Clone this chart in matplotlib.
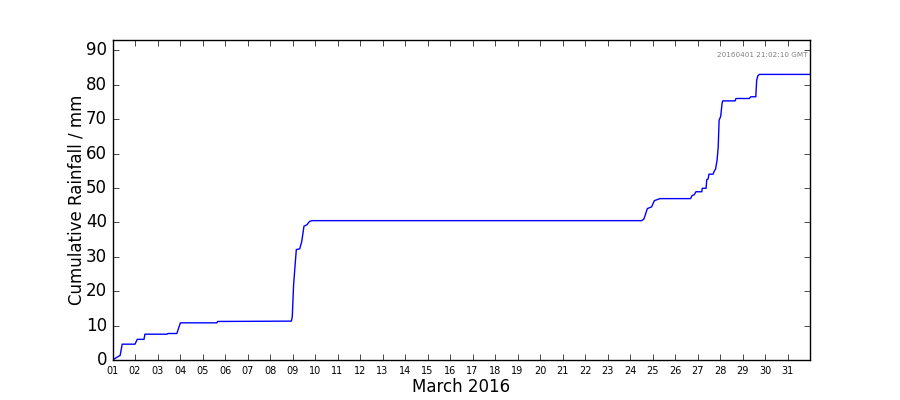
import datetime as dt
import matplotlib
matplotlib.use("Agg")
import matplotlib.pyplot as plt
import matplotlib.dates as mdates

# Days since 2016-03-01 00:00 and cumulative rainfall (mm)
days = [0.00, 0.15, 0.34, 0.40, 0.43, 1.00, 1.05, 1.10, 1.40, 1.44,
        2.43, 2.46, 2.86, 2.95, 3.02, 4.64, 4.67, 7.95, 7.99, 8.05,
        8.12, 8.17, 8.32, 8.41, 8.51, 8.64, 8.76, 8.88, 23.52, 23.62,
        23.77, 23.96, 24.08, 24.33, 25.69, 25.76, 25.85, 25.93, 26.19, 26.21,
        26.38, 26.41, 26.47, 26.51, 26.69, 26.75, 26.80, 26.87, 26.92, 26.96,
        27.03, 27.09, 27.12, 27.67, 27.71, 28.30, 28.37, 28.59, 28.63, 28.68,
        28.75, 31.00]
rain_mm = [0.0, 0.6, 1.35, 3.5, 4.6, 4.6, 5.3, 6.0, 6.0, 7.5,
           7.5, 7.7, 7.7, 9.5, 10.8, 10.8, 11.2, 11.3, 12.6, 22.0,
           28.0, 32.1, 32.3, 34.4, 38.9, 39.3, 40.3, 40.5, 40.5, 41.0,
           44.0, 44.5, 46.3, 46.9, 46.9, 47.8, 48.0, 48.9, 48.9, 49.9,
           49.9, 52.4, 52.6, 54.0, 54.0, 55.0, 55.4, 58.1, 61.9, 69.7,
           70.8, 74.5, 75.3, 75.3, 76.0, 76.0, 76.5, 76.5, 81.3, 82.6,
           83.0, 83.0]
stamp = "20160401 21:02:10 GMT"

start = dt.datetime(2016, 3, 1)
end = dt.datetime(2016, 3, 31, 23, 59)
times = [start + dt.timedelta(days=d) for d in days]

plt.style.use("classic")
plt.rcParams["font.family"] = ["DejaVu Sans"]

fig = plt.figure(figsize=(9, 4), dpi=100, facecolor="white")
ax = fig.add_subplot(111)
fig.subplots_adjust(left=0.125, right=0.9, bottom=0.1, top=0.9)
ax.plot(times, rain_mm, color="b", linewidth=1.0)

ax.set_xlim(start, end)
ax.set_ylim(0, 93)
ax.set_yticks(range(0, 91, 10))
ax.xaxis.set_major_locator(mdates.DayLocator())
ax.xaxis.set_major_formatter(mdates.DateFormatter("%d"))
ax.tick_params(axis="x", labelsize=7)
ax.tick_params(axis="y", labelsize=12)
ax.set_xlabel("March 2016", fontsize=12, labelpad=2)
ax.set_ylabel("Cumulative Rainfall / mm", fontsize=12, labelpad=0)
ax.text(0.996, 0.953, stamp, transform=ax.transAxes, ha="right", va="center",
        fontsize=5.2, color="gray")

fig.savefig("out.png", dpi=100, facecolor="white")
